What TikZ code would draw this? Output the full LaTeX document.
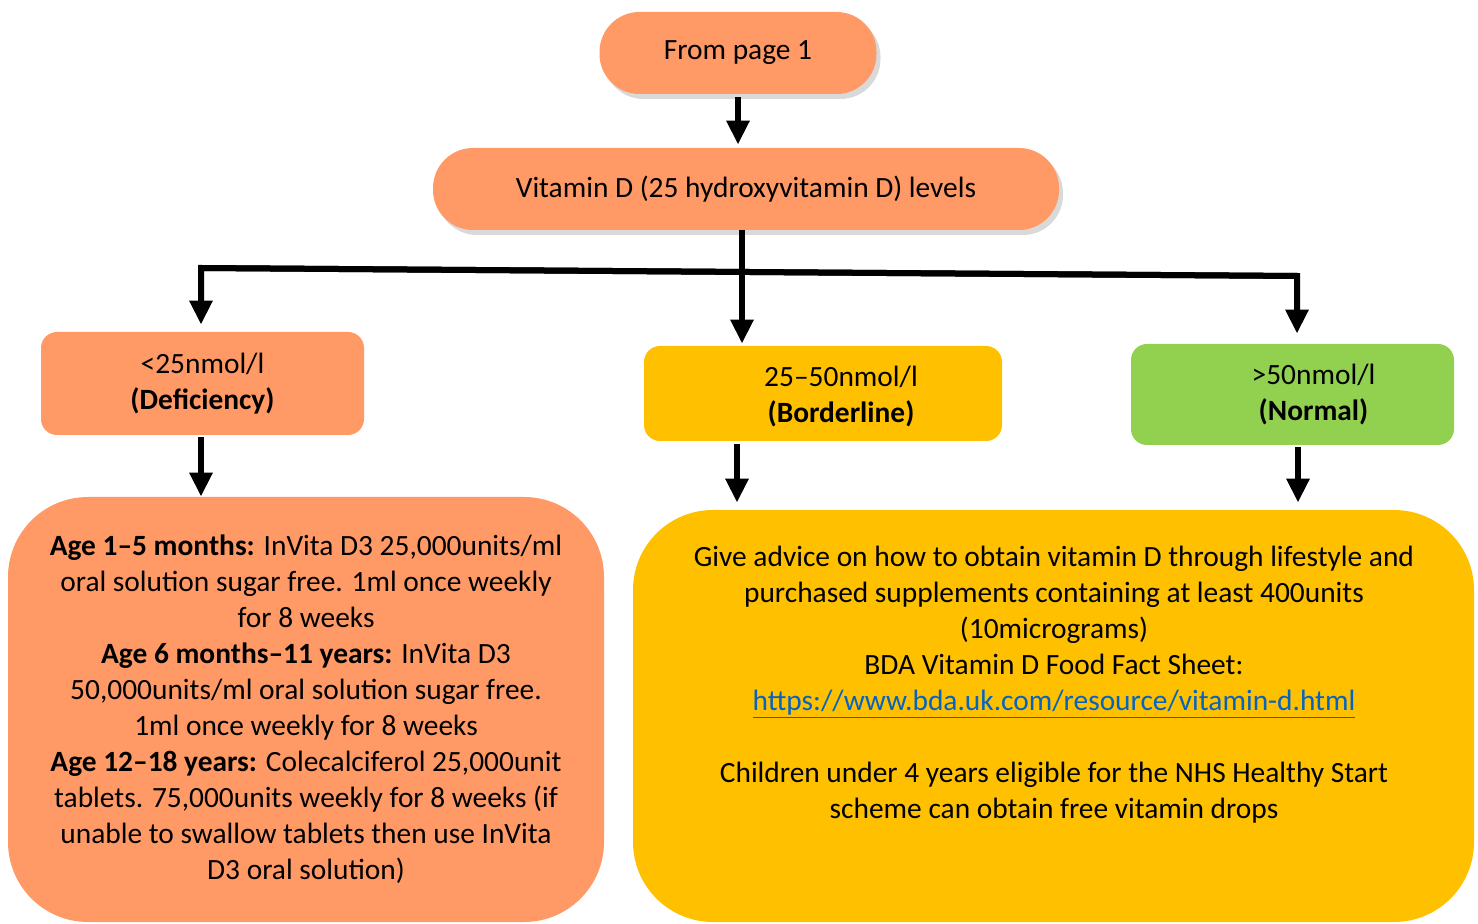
\documentclass[tikz,border=0pt]{standalone}
\usepackage{fontspec}
\setmainfont{Carlito}
\usepackage{xcolor}
\usetikzlibrary{arrows.meta,shadows}

\definecolor{vdorange}{HTML}{FF9966}
\definecolor{vdyellow}{HTML}{FFC000}
\definecolor{vdgreen}{HTML}{92D050}
\definecolor{vdlink}{HTML}{0563C1}
\newcommand{\vdfont}{\fontsize{14.7}{18}\selectfont}

\tikzset{
  pill/.style={fill=vdorange, rounded corners=20pt, minimum height=41pt, font=\vdfont,
    drop shadow={shadow xshift=2pt, shadow yshift=-2.5pt, opacity=0.3}},
  levelbox/.style={rounded corners=8pt, font=\vdfont, align=center},
  bigbox/.style={rounded corners=40pt},
  txt/.style={font=\vdfont, align=center},
  arr/.style={line width=3pt, line join=miter, -{Triangle[width=11pt,length=12pt]}},
}

\begin{document}
\begin{tikzpicture}[x=0.5pt,y=-0.5pt]
        \useasboundingbox (0,0) rectangle (1478,924);

        \node[pill, minimum width=138.5pt] (A1) at (738,53) {From page 1} ;
        \node[pill, minimum width=313pt] (B1) at (746,189) {Vitamin D (25 hydroxyvitamin D) levels} ;

        \node[levelbox, fill=vdorange, minimum width=161.5pt, minimum height=51.5pt] (C1) at (202.5,383.5)
            {<25nmol/l\\\textbf{(Deficiency)}} ;
        \node[levelbox, fill=vdyellow, minimum width=179pt, minimum height=47.5pt,
            label={[txt, xshift=9pt, yshift=-1.5pt]center:25--50nmol/l\\\textbf{(Borderline)}}] (C2) at (823,393.5) {} ;
        \node[levelbox, fill=vdgreen, minimum width=161.5pt, minimum height=50.5pt,
            label={[txt, xshift=10.5pt]center:>50nmol/l\\\textbf{(Normal)}}] (C3) at (1292.5,394.5) {} ;

        \node[bigbox, fill=vdorange, minimum width=298pt, minimum height=212.5pt, txt] (D1) at (306,709.5)
            {\textbf{Age 1--5 months:} InVita D3 25,000units/ml\\
             oral solution sugar free. 1ml once weekly\\
             for 8 weeks\\
             \textbf{Age 6 months--11 years:} InVita D3\\
             50,000units/ml oral solution sugar free.\\
             1ml once weekly for 8 weeks\\
             \textbf{Age 12--18 years:} Colecalciferol 25,000unit\\
             tablets. 75,000units weekly for 8 weeks (if\\
             unable to swallow tablets then use InVita\\
             D3 oral solution)} ;
        \node[bigbox, fill=vdyellow, minimum width=420.5pt, minimum height=206pt] (D2) at (1053.5,716) {} ;
        \node[txt] (D2text) at (1054,684.5)
            {Give advice on how to obtain vitamin D through lifestyle and\\
             purchased supplements containing at least 400units\\
             (10micrograms)\\
             BDA Vitamin D Food Fact Sheet:\\
             \textcolor{vdlink}{\underline{https://www.bda.uk.com/resource/vitamin-d.html}}\\[18pt]
             Children under 4 years eligible for the NHS Healthy Start\\
             scheme can obtain free vitamin drops} ;

        % branching point of the three levels
        \coordinate (jL) at (201,268) ;
        \coordinate (jR) at (1297,276) ;
        \coordinate (bA) at (737,444) ;
        \coordinate (nA) at (1298,447) ;

        \draw[arr, shorten <=1.5pt, shorten >=1.5pt] (A1.south) -- (A1.south |- B1.north) ;
        \draw[arr, shorten >=1pt] ([xshift=-2pt]B1.south) -- ([xshift=-2pt]B1.south |- C2.north) ;
        \draw[arr, shorten >=3.5pt] (jR) -- (jL) -- (jL |- C1.north) ;
        \draw[arr, shorten >=5pt] (jL) -- (jR) -- (jR |- C3.north) ;
        \draw[arr, shorten <=1pt] (C1.south -| jL) -- (jL |- D1.north) ;
        \draw[arr, shorten >=3.5pt] (bA) -- (bA |- D2.north) ;
        \draw[arr, shorten >=3.5pt] (nA) -- (nA |- D2.north) ;
    \end{tikzpicture}
\end{document}
